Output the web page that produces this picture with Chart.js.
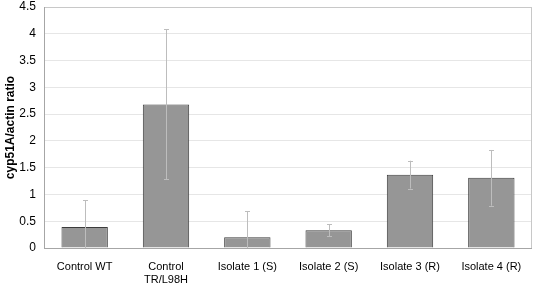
<!DOCTYPE html>
<html><head><meta charset="utf-8">
<script src="https://cdn.jsdelivr.net/npm/chart.js@4"></script>
<style>html,body{margin:0;padding:0;background:#fff}#wrap{width:537px;height:286px}</style>
</head><body><div id="wrap"><canvas id="c" width="537" height="286"></canvas></div>
<script>
const categories = ["Control WT", ["Control", "TR/L98H"], "Isolate 1 (S)", "Isolate 2 (S)", "Isolate 3 (R)", "Isolate 4 (R)"];
const ratioValues = [0.39, 2.68, 0.20, 0.33, 1.37, 1.31];
const ratioErrors = [0.50, 1.40, 0.49, 0.115, 0.26, 0.52];
const yTicks = [0, 0.5, 1, 1.5, 2, 2.5, 3, 3.5, 4, 4.5];
const yTitle = "cyp51A/actin ratio";

const errorBars = {
  id: 'errorBars',
  afterDatasetsDraw(chart) {
    const ctx = chart.ctx, y = chart.scales.y;
    const meta = chart.getDatasetMeta(0);
    ctx.save();
    ctx.strokeStyle = '#bdbdbd';
    ctx.lineWidth = 1;
    meta.data.forEach((bar, i) => {
      const x = Math.round(bar.x) + 0.5;
      const lo = ratioValues[i] - ratioErrors[i];
      const top = y.getPixelForValue(ratioValues[i] + ratioErrors[i]);
      const bot = y.getPixelForValue(Math.max(0, lo));
      ctx.beginPath();
      ctx.moveTo(x, top); ctx.lineTo(x, bot);
      ctx.moveTo(x - 2.5, Math.round(top) + 0.5); ctx.lineTo(x + 2.5, Math.round(top) + 0.5);
      if (lo > 0) { ctx.moveTo(x - 2.5, Math.round(bot) + 0.5); ctx.lineTo(x + 2.5, Math.round(bot) + 0.5); }
      ctx.stroke();
    });
    ctx.restore();
  }
};
const plotBorder = {
  id: 'plotBorder',
  afterDraw(chart) {
    const a = chart.chartArea, ctx = chart.ctx;
    ctx.save();
    ctx.strokeStyle = '#c8c8c8';
    ctx.lineWidth = 1;
    ctx.strokeRect(Math.round(a.left) + 0.5, Math.round(a.top) + 0.5, Math.round(a.right - a.left) - 1, Math.round(a.bottom - a.top));
    ctx.strokeStyle = '#a6a6a6';
    ctx.beginPath();
    ctx.moveTo(Math.round(a.left) + 0.5, a.top); ctx.lineTo(Math.round(a.left) + 0.5, a.bottom);
    ctx.moveTo(a.left, Math.round(a.bottom) + 0.5); ctx.lineTo(a.right, Math.round(a.bottom) + 0.5);
    ctx.stroke();
    ctx.restore();
  }
};

new Chart(document.getElementById('c'), {
  type: 'bar',
  data: {
    labels: categories,
    datasets: [{
      data: ratioValues,
      backgroundColor: '#969696',
      borderColor: '#3c3c3c',
      borderWidth: 1,
      categoryPercentage: 1,
      barPercentage: 0.57
    }]
  },
  options: {
    responsive: false,
    animation: false,
    layout: { padding: { top: 7, right: 5, left: 3, bottom: 0 } },
    plugins: { legend: { display: false }, tooltip: { enabled: false } },
    scales: {
      x: {
        grid: { display: false, drawTicks: false },
        border: { display: false },
        ticks: { color: '#000', font: { family: 'Liberation Sans', size: 11 }, maxRotation: 0, autoSkip: false, padding: 12 },
        afterFit(s) { s.height = 38; s.paddingLeft = 0; s.paddingRight = 0; }
      },
      y: {
        min: 0, max: 4.5,
        afterBuildTicks(s) { s.ticks = yTicks.map(v => ({ value: v })); },
        grid: { color: '#e6e6e6', drawTicks: false },
        border: { display: false },
        ticks: { color: '#000', font: { family: 'Liberation Sans', size: 12 }, padding: 8, callback: v => String(v) },
        title: { display: true, text: yTitle, color: '#000', font: { family: 'Liberation Sans', size: 12, weight: 'bold' }, padding: 0 },
        afterFit(s) { s.width = 41; s.paddingTop = 0; s.paddingBottom = 0; }
      }
    }
  },
  plugins: [errorBars, plotBorder]
});
</script>
</body></html>
